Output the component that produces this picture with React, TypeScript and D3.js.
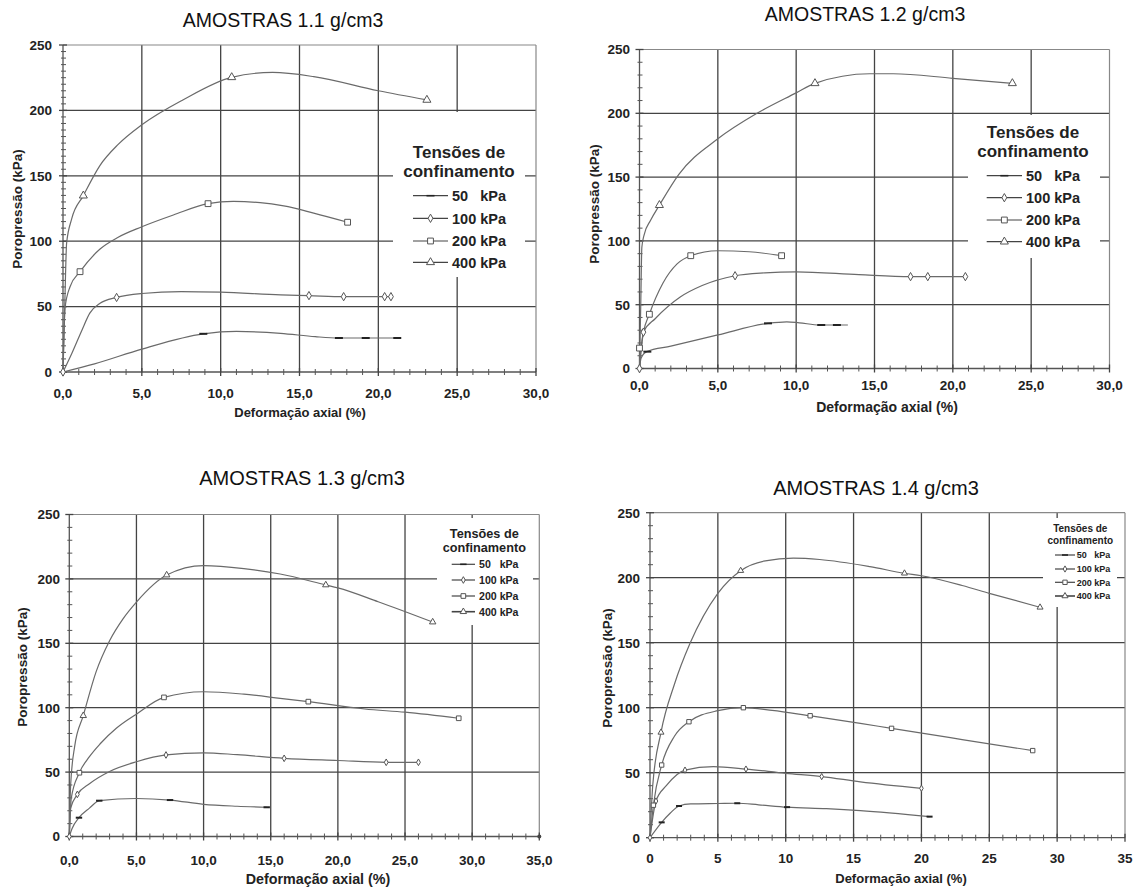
import React from 'react';
import * as d3 from 'd3';

type P = [number, number];

// ---------- Tick values ----------
const Y_TICKS = [0, 50, 100, 150, 200, 250];
const LEGEND_VALUES = ['50', '100', '200', '400'];
const LEGEND_TITLE = ['Tensões de', 'confinamento'];

// ---------- AMOSTRAS 1.1 g/cm3 ----------
const c11_50: P[] = [[0, 0], [2, 6.2], [5, 17.5], [8.9, 29.2], [11, 31], [13.8, 29.6], [16, 27], [17.5, 26], [19.2, 26], [21.2, 26]];
const m11_50: P[] = [[8.9, 29.2], [17.5, 26], [19.2, 26], [21.2, 26]];
const c11_100: P[] = [[0, 0], [0.55, 14], [1.2, 32], [1.7, 45], [2.35, 52.5], [3.4, 57], [5, 60], [7.5, 61.5], [10, 61], [13.8, 59], [15.6, 58.4], [17.8, 57.6], [20.4, 57.6], [20.8, 57.6]];
const m11_100: P[] = [[0, 0], [3.4, 57], [15.6, 58.4], [17.8, 57.6], [20.4, 57.6], [20.8, 57.6]];
const c11_200: P[] = [[0, 0], [0.13, 49], [0.44, 65], [1.08, 76.7], [2.35, 94], [3.5, 103], [5, 111], [7, 120], [9.2, 128.7], [10.8, 130.4], [12.5, 129.5], [14, 127], [15.9, 121.5], [18.05, 114.5]];
const m11_200: P[] = [[1.08, 76.7], [9.2, 128.7], [18.05, 114.5]];
const c11_400: P[] = [[0, 0], [0.12, 55], [0.23, 98.6], [0.55, 117], [1.29, 134.8], [2.35, 158], [3.5, 174], [5, 189], [7.6, 208], [10.7, 225.3], [13.3, 229], [15.9, 225.8], [20, 215], [23.08, 208]];
const m11_400: P[] = [[1.29, 134.8], [10.7, 225.3], [23.08, 208]];

// ---------- AMOSTRAS 1.2 g/cm3 ----------
const c12_50: P[] = [[0, 0], [0.1, 8], [0.46, 13.2], [2, 17.5], [5, 26.3], [8.2, 35.4], [9.4, 36.6], [10.2, 35.8], [11.5, 34.1], [13.3, 34.1]];
const m12_50: P[] = [[0.5, 13.2], [8.2, 35.4], [11.6, 34.1], [12.6, 34.1]];
const c12_100: P[] = [[0, 0], [0.25, 28.5], [1, 39], [2.6, 56], [4, 65], [6.1, 72.7], [8, 75], [10, 75.8], [14, 73.5], [17.3, 72], [18.4, 72], [20.8, 72]];
const m12_100: P[] = [[0, 0], [0.25, 28.5], [6.1, 72.7], [17.3, 72], [18.4, 72], [20.8, 72]];
const c12_200: P[] = [[0, 0], [0.1, 15], [0.25, 28], [0.63, 42.5], [1.5, 67], [2.4, 82], [3.27, 88.4], [5, 92.3], [7, 91.5], [9.07, 88.4]];
const m12_200: P[] = [[0, 16], [0.63, 42.5], [3.27, 88.4], [9.07, 88.4]];
const c12_400: P[] = [[0, 0], [0.08, 50], [0.15, 95], [0.3, 105], [0.7, 116], [1.27, 128], [2.5, 152], [5, 180], [7.5, 200], [10, 216], [11.2, 223.5], [14.7, 231], [16.2, 231], [20, 227.4], [23.8, 223.5]];
const m12_400: P[] = [[1.27, 128], [11.2, 223.5], [23.8, 223.5]];

// ---------- AMOSTRAS 1.3 g/cm3 ----------
const c13_50: P[] = [[0, 0], [0.2, 6], [0.72, 14.6], [1.5, 22], [2.23, 27.8], [5, 29.5], [7.5, 28.3], [10, 25], [12.5, 23.5], [14.7, 22.7]];
const m13_50: P[] = [[0.72, 14.6], [2.23, 27.8], [7.5, 28.3], [14.7, 22.7]];
const c13_100: P[] = [[0, 0], [0.1, 22], [0.6, 32.7], [1.5, 41], [3, 50.5], [5, 58], [7.2, 63.3], [10, 65], [12.5, 63.5], [16, 60.7], [20, 59], [23.6, 57.6], [26, 57.6]];
const m13_100: P[] = [[0, 0], [0.6, 32.7], [7.2, 63.3], [16, 60.7], [23.6, 57.6], [26, 57.6]];
const c13_200: P[] = [[0, 0], [0.15, 30], [0.75, 49.5], [1.5, 62], [2.3, 72], [3.5, 84], [5, 95], [7.05, 108], [10, 112.4], [13, 110.5], [15.7, 107.3], [17.8, 104.7], [22, 99], [25, 96.5], [29, 91.8]];
const m13_200: P[] = [[0.75, 49.5], [7.05, 108], [17.8, 104.7], [29, 91.8]];
const c13_400: P[] = [[0, 0], [0.1, 40], [0.4, 70], [1.04, 93.8], [2, 128], [3, 152], [4, 169], [5, 182], [7.25, 203], [10, 210.3], [13, 208], [15.7, 203.8], [19.1, 195.3], [20, 193], [23, 182.3], [27.06, 166.5]];
const m13_400: P[] = [[1.04, 93.8], [7.25, 203], [19.1, 195.3], [27.06, 166.5]];
const extra13: P[] = [[35, 0]];

// ---------- AMOSTRAS 1.4 g/cm3 ----------
const c14_50: P[] = [[0, 0], [0.86, 11.8], [1.5, 19], [2.14, 24.4], [3, 26], [5, 26.3], [6.43, 26.5], [8, 25.3], [10.1, 23.5], [13, 22.3], [15.5, 20.8], [20.6, 16.2]];
const m14_50: P[] = [[0.86, 11.8], [2.14, 24.4], [6.43, 26.5], [10.1, 23.5], [20.6, 16.2]];
const c14_100: P[] = [[0, 0], [0.44, 28.2], [1.2, 40], [2.58, 52], [4.67, 54.6], [7.07, 52.8], [10, 49.5], [12.65, 47], [15.5, 43], [20, 38]];
const m14_100: P[] = [[0, 0], [0.44, 28.2], [2.58, 52], [7.07, 52.8], [12.65, 47], [20, 38]];
const c14_200: P[] = [[0, 0], [0.25, 25], [0.86, 55.9], [1.8, 78], [2.87, 89.2], [5, 97.7], [6.88, 100], [9, 98], [11.8, 93.8], [15.5, 88], [17.8, 84.1], [23, 75.5], [28.2, 67]];
const m14_200: P[] = [[0.25, 25], [0.86, 55.9], [2.87, 89.2], [6.88, 100], [11.8, 93.8], [17.8, 84.1], [28.2, 67]];
const c14_400: P[] = [[0, 0], [0.2, 40], [0.81, 81], [1.8, 118], [2.95, 149.5], [5, 188], [6.68, 205.4], [8.5, 213], [10.56, 215], [12.5, 214], [16.2, 208.5], [18.75, 203.4], [20, 201.5], [23, 194], [25, 188], [28.74, 177.2]];
const m14_400: P[] = [[0.81, 81], [6.68, 205.4], [18.75, 203.4], [28.74, 177.2]];

type Sym = 'dash' | 'diamond' | 'square' | 'triangle';
const SYMS: Sym[] = ['dash', 'diamond', 'square', 'triangle'];

interface Cfg {
  title: string; xMax: number; intTicks: boolean; yMinor: number;
  curves: P[][]; marks: P[][]; extra?: P[];
  left: number; right: number; top: number; bottom: number;
  titleX: number; titleY: number; titleSize: number;
  yLabX: number; yLabY: number; xLabX: number; xLabY: number; xLabSize: number;
  xTickY: number; yTickX: number;
  lg: { x0: number; x1: number; y0: number; y1: number; cx: number; t1: number; t2: number; rows: number[]; s0: number; s1: number; tx: number; fT: number; fE: number; };
  mk: number;
}

const panels: Cfg[] = [
  {
    title: 'AMOSTRAS 1.1 g/cm3', xMax: 30, intTicks: false, yMinor: 5,
    curves: [c11_50, c11_100, c11_200, c11_400], marks: [m11_50, m11_100, m11_200, m11_400],
    left: 63, right: 536, top: 45, bottom: 372,
    titleX: 283, titleY: 27, titleSize: 19.5,
    yLabX: 17.5, yLabY: 209, xLabX: 300, xLabY: 417, xLabSize: 13,
    xTickY: 398, yTickX: 52,
    lg: { x0: 393, x1: 525, y0: 112, y1: 277, cx: 459, t1: 151.7, t2: 170.7, rows: [195.7, 218.3, 241, 262.3], s0: 413, s1: 448, tx: 452, fT: 17, fE: 14.5 },
    mk: 1,
  },
  {
    title: 'AMOSTRAS 1.2 g/cm3', xMax: 30, intTicks: false, yMinor: 10,
    curves: [c12_50, c12_100, c12_200, c12_400], marks: [m12_50, m12_100, m12_200, m12_400],
    left: 639.5, right: 1109.5, top: 49.5, bottom: 368.5,
    titleX: 865, titleY: 21, titleSize: 19.5,
    yLabX: 594, yLabY: 204, xLabX: 887, xLabY: 412, xLabSize: 14,
    xTickY: 390, yTickX: 630,
    lg: { x0: 968, x1: 1100, y0: 115, y1: 258, cx: 1033, t1: 131.7, t2: 150.7, rows: [175.7, 197.7, 220, 241.7], s0: 986.7, s1: 1022, tx: 1026, fT: 17, fE: 14.5 },
    mk: 1,
  },
  {
    title: 'AMOSTRAS 1.3 g/cm3', xMax: 35, intTicks: false, yMinor: 10,
    curves: [c13_50, c13_100, c13_200, c13_400], marks: [m13_50, m13_100, m13_200, m13_400], extra: extra13,
    left: 69.3, right: 539.3, top: 514.5, bottom: 836.5,
    titleX: 302, titleY: 485, titleSize: 20,
    yLabX: 22.5, yLabY: 667, xLabX: 318, xLabY: 884, xLabSize: 14.3,
    xTickY: 865, yTickX: 60,
    lg: { x0: 437, x1: 533, y0: 518, y1: 625, cx: 484.3, t1: 533.3, t2: 547.3, rows: [564.3, 580, 596, 611.7], s0: 451.7, s1: 475, tx: 479, fT: 12.7, fE: 10.6 },
    mk: 0.8,
  },
  {
    title: 'AMOSTRAS 1.4 g/cm3', xMax: 35, intTicks: true, yMinor: 10,
    curves: [c14_50, c14_100, c14_200, c14_400], marks: [m14_50, m14_100, m14_200, m14_400],
    left: 650, right: 1125, top: 512.7, bottom: 837.7,
    titleX: 876, titleY: 495, titleSize: 20,
    yLabX: 607.5, yLabY: 668, xLabX: 901, xLabY: 883, xLabSize: 13,
    xTickY: 863, yTickX: 640,
    lg: { x0: 1043, x1: 1117, y0: 518, y1: 607, cx: 1080.3, t1: 528.3, t2: 540.7, rows: [555, 569, 582.3, 596], s0: 1055, s1: 1075, tx: 1076.7, fT: 10, fE: 9 },
    mk: 0.75,
  },
];

const FONT = "'Liberation Sans', Arial, Helvetica, sans-serif";
const GRID = '#444';
const CURVE = '#6a6a6a';
const MARK = '#555';

function Marker({ sym, x, y, k, legend }: { sym: Sym; x: number; y: number; k: number; legend?: boolean }) {
  if (sym === 'dash') {
    const w = 4 * k;
    return <line x1={x - w} x2={x + w} y1={y} y2={y} stroke="#222" strokeWidth={legend ? 1.6 : 2} />;
  }
  const type = sym === 'diamond' ? d3.symbolDiamond : sym === 'square' ? d3.symbolSquare : d3.symbolTriangle;
  const size = (sym === 'diamond' ? 20 : sym === 'square' ? 34 : 28) * k * k;
  const d = d3.symbol().type(type).size(size)() as string;
  return <path d={d} transform={`translate(${x},${y})`} fill="#fff" stroke={MARK} strokeWidth={1} />;
}

function Panel({ c }: { c: Cfg }) {
  const xs = d3.scaleLinear().domain([0, c.xMax]).range([c.left, c.right]);
  const ys = d3.scaleLinear().domain([0, 250]).range([c.bottom, c.top]);
  const xMajor = d3.range(0, c.xMax + 0.001, 5);
  const xMinor = d3.range(0, c.xMax + 0.001, 1).filter(v => v % 5 !== 0);
  const yMinor = d3.range(0, 250.001, c.yMinor).filter(v => v % 50 !== 0);
  const fmt = (v: number) => (c.intTicks ? d3.format('d')(v) : d3.format('.1f')(v).replace('.', ','));
  const lineGen = d3.line<P>().x(d => xs(d[0])).y(d => ys(d[1])).curve(d3.curveMonotoneX);
  const L = c.lg;
  return (
    <g fontFamily={FONT}>
      <text x={c.titleX} y={c.titleY} textAnchor="middle" fontSize={c.titleSize} fill="#111">{c.title}</text>
      {/* grid */}
      {xMajor.filter(v => v > 0 && v < c.xMax).map(v => (
        <line key={'gx' + v} x1={xs(v)} x2={xs(v)} y1={c.top} y2={c.bottom} stroke={GRID} strokeWidth={1.3} />
      ))}
      {Y_TICKS.filter(v => v > 0 && v < 250).map(v => (
        <line key={'gy' + v} x1={c.left} x2={c.right} y1={ys(v)} y2={ys(v)} stroke={GRID} strokeWidth={1.3} />
      ))}
      <line x1={c.left} x2={c.right} y1={c.top} y2={c.top} stroke="#888" strokeWidth={1.2} />
      <line x1={c.right} x2={c.right} y1={c.top} y2={c.bottom} stroke="#888" strokeWidth={1.2} />
      {/* axes */}
      <line x1={c.left} x2={c.right} y1={c.bottom} y2={c.bottom} stroke="#555" strokeWidth={1.3} />
      <line x1={c.left} x2={c.left} y1={c.top} y2={c.bottom} stroke="#555" strokeWidth={1.3} />
      {xMinor.map(v => (
        <line key={'xm' + v} x1={xs(v)} x2={xs(v)} y1={c.bottom - 3} y2={c.bottom + 3} stroke="#555" strokeWidth={1} />
      ))}
      {xMajor.map(v => (
        <line key={'xM' + v} x1={xs(v)} x2={xs(v)} y1={c.bottom - 4} y2={c.bottom + 4} stroke="#444" strokeWidth={1.3} />
      ))}
      {yMinor.map(v => (
        <line key={'ym' + v} x1={c.left - 2} x2={c.left + 3} y1={ys(v)} y2={ys(v)} stroke="#555" strokeWidth={1} />
      ))}
      {Y_TICKS.map(v => (
        <line key={'yM' + v} x1={c.left - 4} x2={c.left + 4} y1={ys(v)} y2={ys(v)} stroke="#444" strokeWidth={1.3} />
      ))}
      {/* tick labels */}
      {xMajor.map(v => (
        <text key={'xl' + v} x={xs(v)} y={c.xTickY} textAnchor="middle" fontSize={13.5} fontWeight="bold" fill="#222">{fmt(v)}</text>
      ))}
      {Y_TICKS.map(v => (
        <text key={'yl' + v} x={c.yTickX} y={ys(v)} dy="0.36em" textAnchor="end" fontSize={13.5} fontWeight="bold" fill="#222">{v}</text>
      ))}
      <text x={c.xLabX} y={c.xLabY} textAnchor="middle" fontSize={c.xLabSize} fontWeight="bold" fill="#222">Deformação axial (%)</text>
      <text transform={`translate(${c.yLabX},${c.yLabY}) rotate(-90)`} dy="0.36em" textAnchor="middle" fontSize={13.5} fontWeight="bold" fill="#222">Poropressão (kPa)</text>
      {/* curves */}
      {c.curves.map((pts, i) => (
        <path key={'c' + i} d={lineGen(pts) as string} fill="none" stroke={CURVE} strokeWidth={1.2} />
      ))}
      {c.marks.map((pts, i) => pts.map((p, j) => (
        <Marker key={'m' + i + '-' + j} sym={SYMS[i]} x={xs(p[0])} y={ys(p[1])} k={c.mk} />
      )))}
      {(c.extra || []).map((p, j) => (
        <circle key={'e' + j} cx={xs(p[0])} cy={ys(p[1])} r={2} fill="#444" />
      ))}
      {/* legend */}
      <rect x={L.x0} y={L.y0} width={L.x1 - L.x0} height={L.y1 - L.y0} fill="#fff" />
      <text x={L.cx} y={L.t1} dy="0.36em" textAnchor="middle" fontSize={L.fT} fontWeight="bold" fill="#222">{LEGEND_TITLE[0]}</text>
      <text x={L.cx} y={L.t2} dy="0.36em" textAnchor="middle" fontSize={L.fT} fontWeight="bold" fill="#222">{LEGEND_TITLE[1]}</text>
      {LEGEND_VALUES.map((v, i) => (
        <g key={'lg' + i}>
          <line x1={L.s0} x2={L.s1} y1={L.rows[i]} y2={L.rows[i]} stroke="#444" strokeWidth={i === 3 && c.mk < 1 ? 1.6 : 1.2} />
          <Marker sym={SYMS[i]} x={(L.s0 + L.s1) / 2} y={L.rows[i]} k={c.mk} legend />
          <text x={L.tx} y={L.rows[i]} dy="0.36em" fontSize={L.fE} fontWeight="bold" fill="#222">{v}</text>
          <text x={L.tx + L.fE * 1.95} y={L.rows[i]} dy="0.36em" fontSize={L.fE} fontWeight="bold" fill="#222">kPa</text>
        </g>
      ))}
    </g>
  );
}

export default function App() {
  return (
    <svg width={1143} height={887} style={{ position: 'absolute', left: 0, top: 0, background: '#fff' }}>
      <rect x={0} y={0} width={1143} height={887} fill="#fff" />
      {panels.map((c, i) => <Panel key={i} c={c} />)}
    </svg>
  );
}
